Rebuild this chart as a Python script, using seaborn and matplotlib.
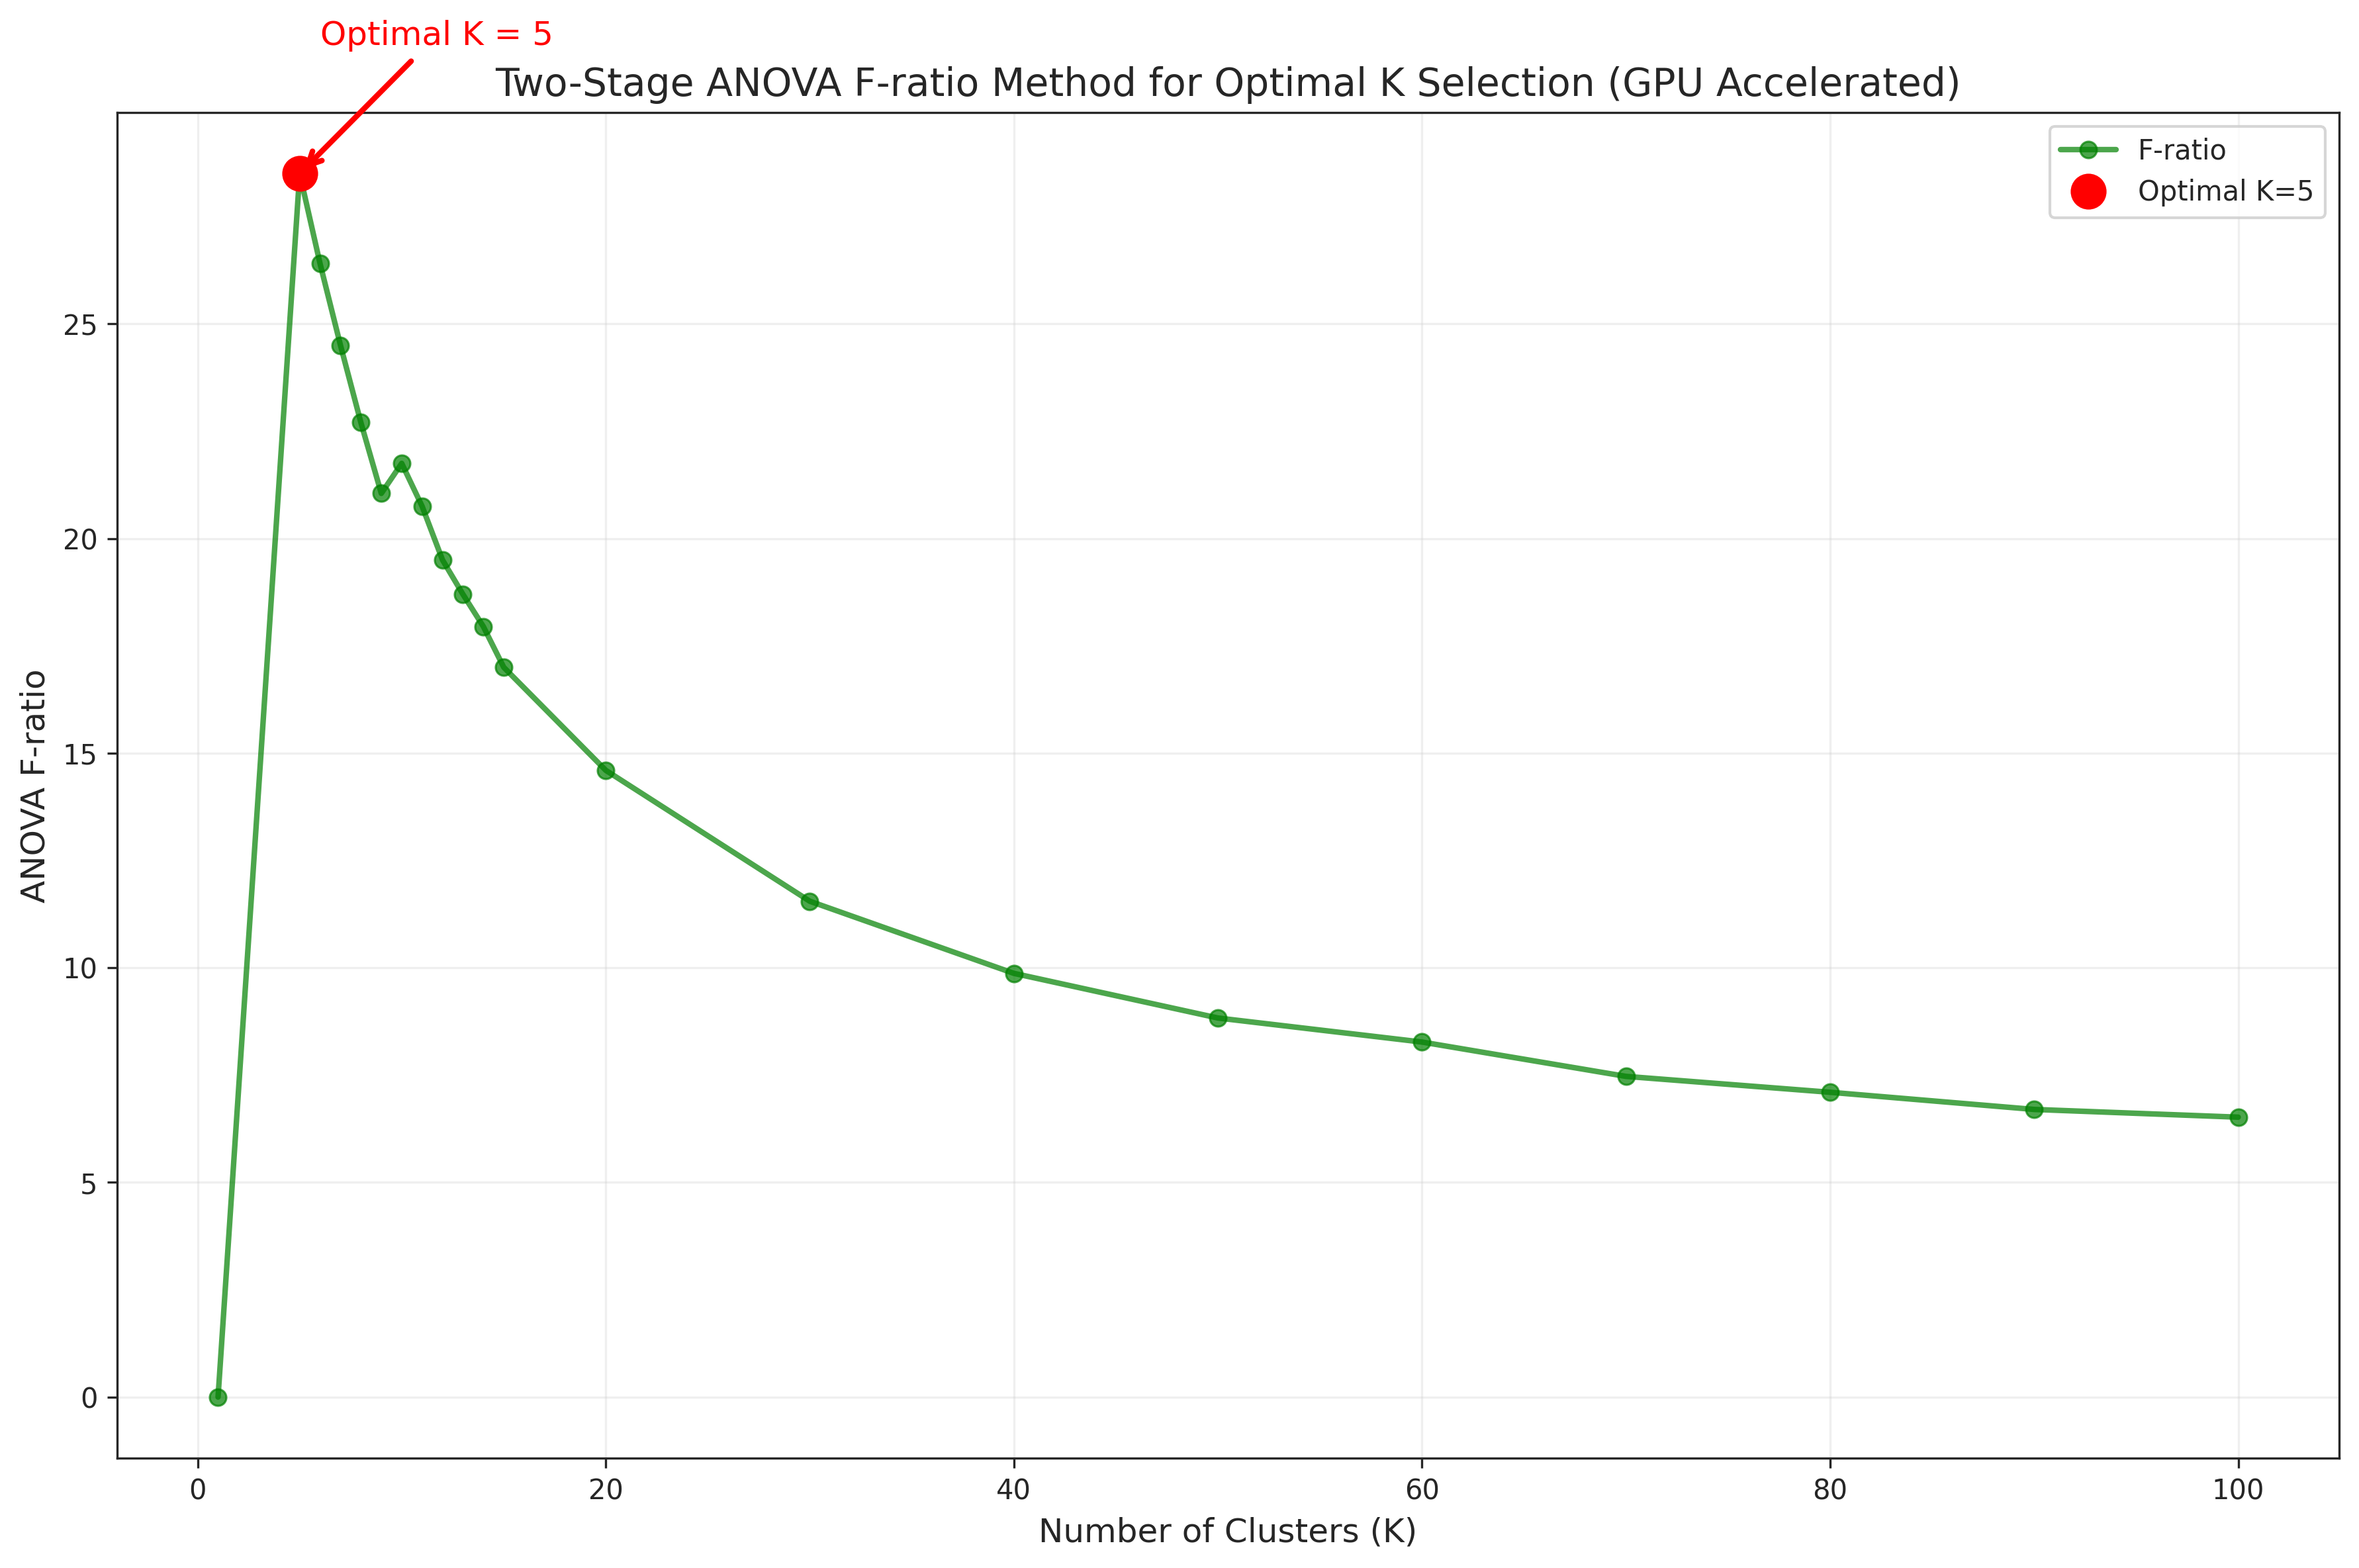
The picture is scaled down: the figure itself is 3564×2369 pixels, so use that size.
import matplotlib.pyplot as plt
import seaborn as sns
import pandas as pd

sns.set_style('ticks')

k_values = [1, 5, 6, 7, 8, 9, 10, 11, 12, 13, 14, 15, 20, 30, 40, 50, 60, 70, 80, 90, 100]
f_ratios = [0.0, 28.5, 26.4, 24.5, 22.7, 21.05, 21.75, 20.75, 19.5, 18.7, 17.95, 17.0,
            14.6, 11.55, 9.87, 8.83, 8.27, 7.47, 7.1, 6.7, 6.52]
best_k = 5
best_f = 28.5

df = pd.DataFrame({'K': k_values, 'F': f_ratios})

fig, ax = plt.subplots(figsize=(12, 8))
sns.lineplot(data=df, x='K', y='F', ax=ax, color='green', alpha=0.7, linewidth=2,
             marker='o', markersize=6, markeredgecolor='green', label='F-ratio')
ax.plot(best_k, best_f, 'o', color='red', markersize=12, label=f'Optimal K={best_k}')
ax.annotate(f'Optimal K = {best_k}', xy=(best_k, best_f), xytext=(best_k + 1, best_f + 3),
            color='red', fontsize=12, arrowprops=dict(arrowstyle='->', color='red', lw=2))

ax.set_xlabel('Number of Clusters (K)', fontsize=12)
ax.set_ylabel('ANOVA F-ratio', fontsize=12)
ax.set_title('Two-Stage ANOVA F-ratio Method for Optimal K Selection (GPU Accelerated)', fontsize=14)
ax.grid(True, alpha=0.3)
ax.legend()
plt.tight_layout()
plt.savefig('out.png', dpi=300, bbox_inches='tight')
